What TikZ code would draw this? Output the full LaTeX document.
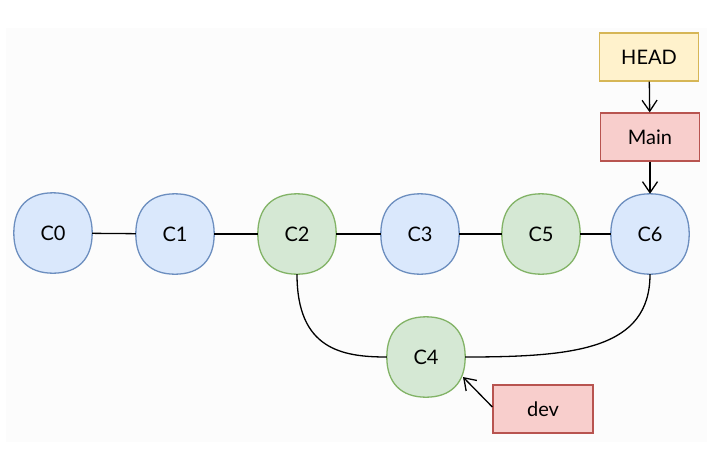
\documentclass[tikz,border=0pt]{standalone}
\usepackage{fontspec}
\setmainfont{Lato}
\usetikzlibrary{arrows.meta,calc,backgrounds}
\definecolor{bluefill}{HTML}{DAE8FC}
\definecolor{bluedraw}{HTML}{6C8EBF}
\definecolor{greenfill}{HTML}{D5E8D4}
\definecolor{greendraw}{HTML}{82B366}
\definecolor{yellowfill}{HTML}{FFF2CC}
\definecolor{yellowdraw}{HTML}{D6B656}
\definecolor{redfill}{HTML}{F8CECC}
\definecolor{reddraw}{HTML}{B85450}
\definecolor{bgfill}{RGB}{252,252,252}
\tikzset{
  commit/.style={rectangle, minimum width=78pt, minimum height=80pt,
    font=\fontsize{20}{22}\selectfont, inner sep=0pt},
  label/.style={rectangle, minimum width=99pt, minimum height=48pt, line width=1.3pt,
    font=\fontsize{20}{22}\selectfont, inner sep=0pt},
  yellowbox/.style={label, fill=yellowfill, draw=yellowdraw},
  redbox/.style={label, fill=redfill, draw=reddraw},
  blob/.style={line width=1.3pt},
  link/.style={line width=1.3pt, black},
  pointer/.style={line width=1.3pt, black, -{Straight Barb[length=11pt,width=15pt,line width=1.3pt]}}
}
\begin{document}
\begin{tikzpicture}[x=1pt, y=-1pt]
\useasboundingbox (0,0) rectangle (719,466);
\node[commit] (c0) at (53,233) {C0};
\node[commit] (c1) at (175,234) {C1};
\node[commit] (c2) at (297,234) {C2};
\node[commit] (c3) at (420,234) {C3};
\node[commit] (c5) at (541,234) {C5};
\node[commit] (c6) at (650,234) {C6};
\node[commit] (c4) at (426,357) {C4};
\node[yellowbox] (head) at (649,57) {HEAD};
\node[redbox] (main) at (650,137) {Main};
\node[redbox, minimum width=100pt] (dev) at (543,409) {dev};
\begin{scope}[on background layer]
\fill[bgfill] (6,28) rectangle (707,442);
\foreach \n/\c in {c0/blue, c1/blue, c2/green, c3/blue, c5/green, c6/blue, c4/green}
  \draw[blob, fill=\c fill, draw=\c draw]
    (\n.north) .. controls ($(\n.north)!0.64!(\n.north east)$) and ($(\n.east)!0.64!(\n.north east)$) .. (\n.east)
    .. controls ($(\n.east)!0.64!(\n.south east)$) and ($(\n.south)!0.64!(\n.south east)$) .. (\n.south)
    .. controls ($(\n.south)!0.64!(\n.south west)$) and ($(\n.west)!0.64!(\n.south west)$) .. (\n.west)
    .. controls ($(\n.west)!0.64!(\n.north west)$) and ($(\n.north)!0.64!(\n.north west)$) .. (\n.north) -- cycle;
\end{scope}
\draw[link] (c0) -- (c1);
\draw[link] (c1) -- (c2);
\draw[link] (c2) -- (c3);
\draw[link] (c3) -- (c5);
\draw[link] (c5) -- (c6);
\draw[link] (c2.south) .. controls +(0,75) and +(-45,0) .. (c4.west);
\draw[link] (c6.south) .. controls +(0,75) and +(110,0) .. (c4.east);
\draw[pointer] (head) -- (main);
\draw[pointer] (main) -- (c6);
\coordinate (devtip) at (463,377);
\draw[pointer] (dev.west |- 0,407) -- (devtip);
\end{tikzpicture}
\end{document}
